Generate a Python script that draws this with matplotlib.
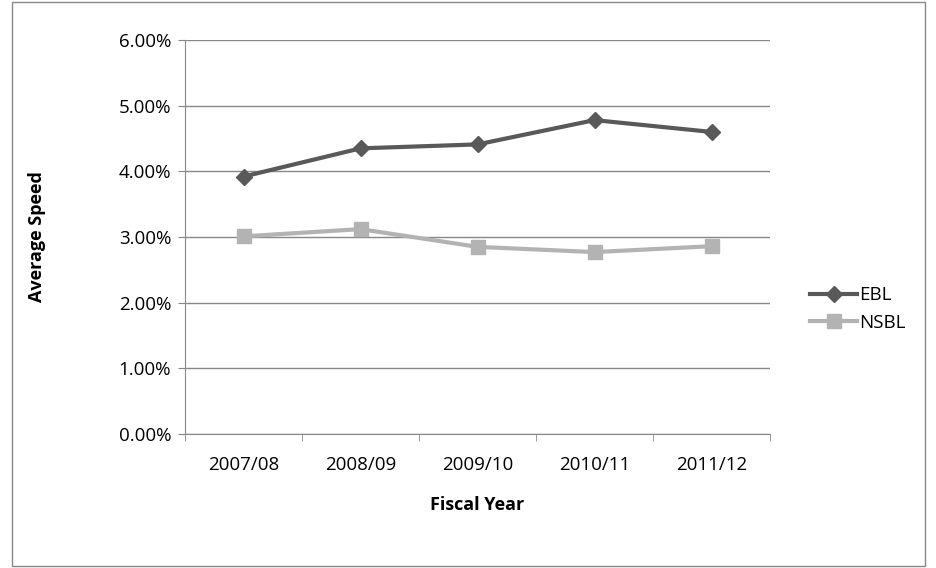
import matplotlib
matplotlib.use("Agg")
import matplotlib.pyplot as plt
from matplotlib.patches import Rectangle
from matplotlib.ticker import FuncFormatter, FixedLocator

years = ["2007/08", "2008/09", "2009/10", "2010/11", "2011/12"]
ebl = [3.92, 4.35, 4.41, 4.78, 4.60]
nsbl = [3.01, 3.12, 2.85, 2.77, 2.86]

plt.rcParams['font.family'] = ['Open Sans', 'DejaVu Sans']
fig = plt.figure(figsize=(9.36, 5.68), dpi=100)
fig.patches.append(Rectangle((12/936, 2/568), 913/936, 564/568, transform=fig.transFigure,
                             fill=False, edgecolor='#888888', linewidth=1))
ax = fig.add_axes([185/936, 134/568, 585/936, 394/568])
x = list(range(len(years)))
ax.plot(x, ebl, color='#595959', lw=3, marker='D', ms=8, label='EBL')
ax.plot(x, nsbl, color='#b3b3b3', lw=3, marker='s', ms=10, label='NSBL')
ax.set_xlim(-0.5, 4.5)
ax.set_ylim(0, 6)
ax.set_yticks([0, 1, 2, 3, 4, 5, 6])
ax.yaxis.set_major_formatter(FuncFormatter(lambda v, p: f"{v:.2f}%"))
ax.set_xticks(x)
ax.set_xticklabels(years)
ax.xaxis.set_minor_locator(FixedLocator([-0.5, 0.5, 1.5, 2.5, 3.5, 4.5]))
ax.tick_params(axis='x', which='major', length=0, pad=16, labelsize=13.5)
ax.tick_params(axis='x', which='minor', length=5, color='#888888')
ax.tick_params(axis='y', length=5, color='#888888', labelsize=13.5, direction='out', pad=5)
ax.grid(axis='y', color='#888888', lw=1)
ax.set_axisbelow(True)
for s in ['top', 'right']:
    ax.spines[s].set_visible(False)
for s in ['left', 'bottom']:
    ax.spines[s].set_color('#888888')
ax.set_xlabel('Fiscal Year', fontweight='bold', fontsize=13, labelpad=16)
ax.set_ylabel('Average Speed', fontweight='bold', fontsize=13, labelpad=52)
ax.legend(loc='center left', bbox_to_anchor=(1.04, 0.317), frameon=False, fontsize=13.5,
          handlelength=2.5, handletextpad=0.1, labelspacing=0.5)
fig.savefig('out.png', dpi=100)
